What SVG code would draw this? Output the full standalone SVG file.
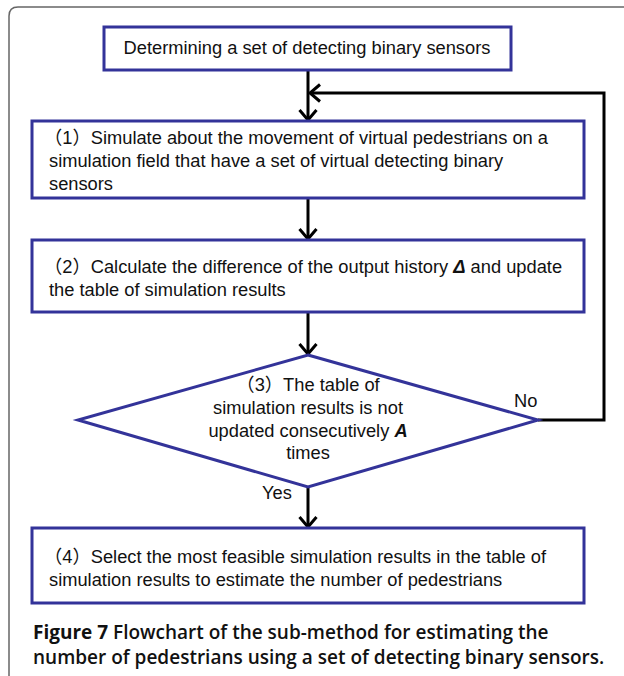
<svg xmlns="http://www.w3.org/2000/svg" width="624" height="676" viewBox="0 0 624 676">
<style>
.box{fill:#fff;stroke:#333399;stroke-width:3}
.t{font-family:"Liberation Sans","Noto Sans CJK JP",Arial,sans-serif;font-size:18.3px;fill:#111}
.c{text-anchor:middle}
.bi{font-weight:bold;font-style:italic}
.ln{fill:none;stroke:#000;stroke-width:3}
.cap{font-family:"Open Sans","Noto Sans",sans-serif;font-size:19px;font-weight:600;fill:#111}
</style>
<defs>
<marker id="arr" viewBox="0 0 20 20" refX="18" refY="10" markerWidth="20" markerHeight="20" orient="auto" markerUnits="userSpaceOnUse">
<path d="M8,1.5 L18,10 L8,18.5" fill="none" stroke="#000" stroke-width="3"/>
</marker>
</defs>
<rect width="624" height="676" fill="#fff"/>
<path d="M9,676 L9,16 Q9,7 18,7 L624,7" fill="none" stroke="#666" stroke-width="1.5"/>
<g id="connectors">
<line class="ln" x1="308" y1="70" x2="308" y2="120" marker-end="url(#arr)"/>
<line class="ln" x1="308" y1="198" x2="308" y2="239" marker-end="url(#arr)"/>
<line class="ln" x1="308" y1="312" x2="308" y2="354" marker-end="url(#arr)"/>
<line class="ln" x1="308" y1="487" x2="308" y2="527" marker-end="url(#arr)"/>
<polyline class="ln" points="538,420 604,420 604,93 310,93" marker-end="url(#arr)"/>
<text class="t" x="514" y="407">No</text>
<text class="t" x="262" y="499">Yes</text>
</g>
<g id="n0">
<rect class="box" x="104" y="27" width="407" height="43"/>
<text class="t c" x="307" y="54">Determining a set of detecting binary sensors</text>
</g>
<g id="n1">
<rect class="box" x="32" y="121" width="552" height="77"/>
<text class="t" x="44" y="144">（1）Simulate about the movement of virtual pedestrians on a</text>
<text class="t" x="49" y="167">simulation field that have a set of virtual detecting binary</text>
<text class="t" x="49" y="190">sensors</text>
</g>
<g id="n2">
<rect class="box" x="32" y="240" width="552" height="72"/>
<text class="t" x="44" y="273">（2）Calculate the difference of the output history <tspan class="bi">Δ</tspan> and update</text>
<text class="t" x="49" y="296">the table of simulation results</text>
</g>
<g id="n3">
<polygon class="box" points="308,355 538,420 308,487 78,420"/>
<text class="t c" x="308" y="391">（3）The table of</text>
<text class="t c" x="308" y="414">simulation results is not</text>
<text class="t c" x="308" y="437">updated consecutively <tspan class="bi">A</tspan></text>
<text class="t c" x="308" y="459">times</text>
</g>
<g id="n4">
<rect class="box" x="32" y="528" width="552" height="75"/>
<text class="t" x="44" y="563">（4）Select the most feasible simulation results in the table of</text>
<text class="t" x="49" y="586">simulation results to estimate the number of pedestrians</text>
</g>
<g id="caption">
<text class="cap" x="33" y="639"><tspan font-weight="bold">Figure 7</tspan> Flowchart of the sub-method for estimating the</text>
<text class="cap" x="33" y="664">number of pedestrians using a set of detecting binary sensors.</text>
</g>
</svg>
